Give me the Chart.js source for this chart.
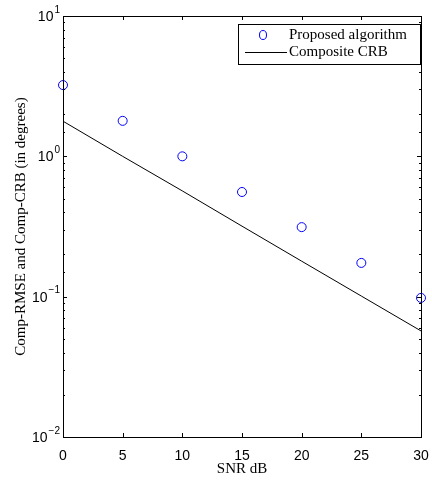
<!DOCTYPE html>
<html>
<head>
<meta charset="utf-8">
<script src="https://cdn.jsdelivr.net/npm/chart.js@4"></script>
<style>
  html, body { margin: 0; padding: 0; background: #fff; }
  #wrap { width: 432px; height: 485px; }
</style>
</head>
<body>
<div id="wrap"><canvas id="c" width="432" height="485"></canvas></div>
<script>
// values
const snr = [0, 5, 10, 15, 20, 25, 30]
const proposed = [3.22, 1.79, 1.0, 0.557, 0.313, 0.174, 0.098]
const crb = [1.78, 1.0, 0.567, 0.318, 0.179, 0.101, 0.057]
const xTicks = [0, 5, 10, 15, 20, 25, 30]
const yDecades = [-2, -1, 0, 1]

const serif = '"Liberation Serif", "DejaVu Serif", serif'
const sans = '"Liberation Sans", Arial, sans-serif'

// box, inward tick marks, superscript labels and legend in the MATLAB look
const matlabLook = {
    id: 'matlabLook',
    afterDraw(chart) {
        const ctx = chart.ctx
        const a = chart.chartArea
        const xs = chart.scales.x
        const ys = chart.scales.y
        ctx.save()
        ctx.strokeStyle = '#000'
        ctx.lineWidth = 1

        // frame
        ctx.strokeRect(Math.round(a.left) + 0.5, Math.round(a.top) + 0.5,
            Math.round(a.right - a.left), Math.round(a.bottom - a.top))

        // x ticks, top and bottom
        ctx.beginPath()
        xTicks.forEach(v => {
            const px = Math.round(xs.getPixelForValue(v)) + 0.5
            ctx.moveTo(px, a.bottom); ctx.lineTo(px, a.bottom - 4)
            ctx.moveTo(px, a.top); ctx.lineTo(px, a.top + 4)
        })
        // y ticks, left and right, major longer
        ys.ticks.forEach(t => {
            const lg = Math.log10(t.value)
            const major = Math.abs(lg - Math.round(lg)) < 1e-6
            const len = major ? 4 : 2
            const py = Math.round(ys.getPixelForValue(t.value)) + 0.5
            ctx.moveTo(a.left, py); ctx.lineTo(a.left + len, py)
            ctx.moveTo(a.right, py); ctx.lineTo(a.right - len, py)
        })
        ctx.stroke()

        // y labels 10^n
        ctx.fillStyle = '#000'
        ctx.textBaseline = 'middle'
        yDecades.forEach(n => {
            const py = ys.getPixelForValue(Math.pow(10, n))
            const exp = String(n).replace('-', '\u2212')
            ctx.font = '10px ' + sans
            const ew = ctx.measureText(exp).width
            ctx.textAlign = 'right'
            ctx.fillText(exp, a.left - 3, py - 6)
            ctx.font = '14px ' + sans
            ctx.fillText('10', a.left - 4 - ew, py + 1)
        })

        // legend
        const lx = 238, ly = 24, lw = 182, lh = 40
        ctx.fillStyle = '#fff'
        ctx.fillRect(lx, ly, lw, lh)
        ctx.strokeRect(lx + 0.5, ly + 0.5, lw, lh)
        ctx.font = '15px ' + serif
        ctx.fillStyle = '#000'
        ctx.textAlign = 'left'
        const ds = chart.data.datasets
        ctx.fillText(ds[0].label, 289, 35)
        ctx.fillText(ds[1].label, 289, 52)
        ctx.strokeStyle = '#0000ff'
        ctx.beginPath()
        ctx.ellipse(263, 35, 3.5, 4.5, 0, 0, Math.PI * 2)
        ctx.stroke()
        ctx.strokeStyle = '#000'
        ctx.beginPath()
        ctx.moveTo(245, 52.5); ctx.lineTo(287, 52.5)
        ctx.stroke()
        ctx.restore()
    }
}

new Chart(document.getElementById('c'), {
    type: 'line',
    data: {
        labels: snr,
        datasets: [{
            label: 'Proposed algorithm',
            data: snr.map((x, i) => ({ x: x, y: proposed[i] })),
            showLine: false,
            pointStyle: 'circle',
            pointRadius: 4.5,
            pointBorderWidth: 1,
            pointBorderColor: '#0000ff',
            pointBackgroundColor: 'rgba(0,0,0,0)',
            borderColor: '#0000ff',
            clip: false
        }, {
            label: 'Composite CRB',
            data: snr.map((x, i) => ({ x: x, y: crb[i] })),
            borderColor: '#000',
            borderWidth: 1,
            pointRadius: 0,
            tension: 0,
            fill: false
        }]
    },
    options: {
        responsive: false,
        animation: false,
        events: [],
        layout: { padding: { top: 16, right: 11, left: 0, bottom: 0 } },
        plugins: { legend: { display: false }, tooltip: { enabled: false } },
        scales: {
            x: {
                type: 'linear',
                min: 0, max: 30,
                grid: { display: false, drawTicks: false },
                border: { display: false },
                ticks: { stepSize: 5, color: '#000', padding: 11, font: { family: sans, size: 14 } },
                title: { display: true, text: 'SNR dB', color: '#000', font: { family: serif, size: 15 }, padding: { top: 0, bottom: 7 } },
                afterFit: s => { s.height = 48; s.paddingLeft = 0; s.paddingRight = 0 }
            },
            y: {
                type: 'logarithmic',
                min: 0.01, max: 10,
                grid: { display: false, drawTicks: false },
                border: { display: false },
                ticks: { display: false },
                title: { display: true, text: 'Comp-RMSE and Comp-CRB (in degrees)', color: '#000', font: { family: serif, size: 15 }, padding: { top: 12, bottom: 0 } },
                afterFit: s => { s.width = 63; s.paddingTop = 0; s.paddingBottom = 0 }
            }
        }
    },
    plugins: [matlabLook]
})
</script>
</body>
</html>
